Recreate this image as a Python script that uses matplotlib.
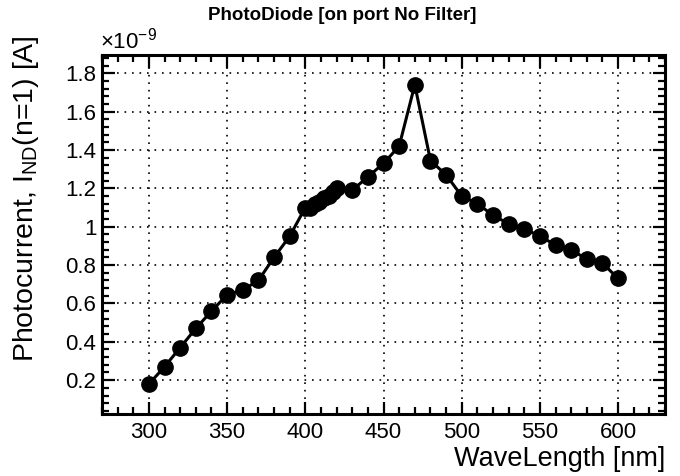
import numpy as np
import matplotlib
matplotlib.use("Agg")
import matplotlib.pyplot as plt
from matplotlib.ticker import MultipleLocator, FormatStrFormatter

plt.rcParams['font.family'] = ['Liberation Sans', 'DejaVu Sans']
plt.rcParams['mathtext.fontset'] = 'custom'
plt.rcParams['mathtext.rm'] = 'Liberation Sans'
plt.rcParams['mathtext.it'] = 'Liberation Sans'
plt.rcParams['mathtext.default'] = 'regular'

# wavelength [nm] and photocurrent [1e-9 A]
wavelength = [300, 310, 320, 330, 340, 350, 360, 370, 380, 390,
              400, 403, 406, 409, 412, 415, 418, 420,
              430, 440, 450, 460, 470, 480, 490, 500, 510, 520,
              530, 540, 550, 560, 570, 580, 590, 600]
current = [0.18, 0.27, 0.37, 0.47, 0.56, 0.645, 0.67, 0.72, 0.84, 0.95,
           1.10, 1.10, 1.12, 1.13, 1.15, 1.16, 1.18, 1.20,
           1.19, 1.26, 1.33, 1.42, 1.74, 1.345, 1.27, 1.16, 1.12, 1.06,
           1.015, 0.99, 0.95, 0.905, 0.88, 0.83, 0.81, 0.73]

fig = plt.figure(figsize=(6.8, 4.76), dpi=100)
ax = fig.add_axes([0.15, 0.13, 0.828, 0.754])

ax.plot(wavelength, current, '-o', color='black', lw=2.2, markersize=11)

ax.set_xlim(270, 630)
ax.set_ylim(0.023, 1.894)
ax.xaxis.set_major_locator(MultipleLocator(50))
ax.xaxis.set_minor_locator(MultipleLocator(10))
ax.yaxis.set_major_locator(MultipleLocator(0.2))
ax.yaxis.set_minor_locator(MultipleLocator(0.04))
ax.yaxis.set_major_formatter(FormatStrFormatter('%g'))

ax.grid(True, which='major', color='black', lw=1.2, linestyle=(0, (1, 3.5)))
ax.tick_params(which='both', direction='in', top=True, right=True, width=1.6, labelsize=16)
ax.tick_params(which='major', length=9)
ax.tick_params(which='minor', length=5)
ax.tick_params(axis='x', pad=6)
ax.tick_params(axis='y', pad=4)
for s in ax.spines.values():
    s.set_linewidth(2.2)

ax.set_xlabel('WaveLength [nm]', fontsize=19.5, loc='right')
ax.xaxis.set_label_coords(1.0, -0.088)
ax.set_ylabel('Photocurrent, I$_{ND}$(n=1) [A]', fontsize=20.5, loc='top')
ax.yaxis.set_label_coords(-0.108, 1.055)

ax.text(-0.003, 1.005, r'$\times10^{-9}$', transform=ax.transAxes, fontsize=16, ha='left', va='bottom')
fig.text(0.503, 1 - 16 / 476, 'PhotoDiode [on port No Filter]', ha='center', va='center',
         fontsize=13.5, fontweight='bold')

fig.savefig('out.png', dpi=100)
